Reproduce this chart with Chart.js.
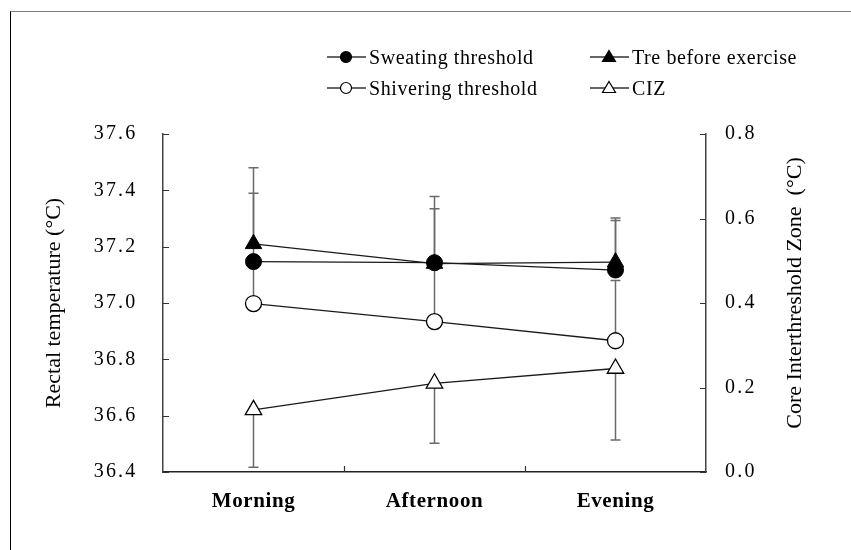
<!DOCTYPE html>
<html>
<head>
<meta charset="utf-8">
<script src="https://cdn.jsdelivr.net/npm/chart.js@4.4.0/dist/chart.umd.min.js"></script>
<style>
  html, body { margin: 0; padding: 0; background: #fff; }
  #wrap { position: relative; width: 851px; height: 550px; overflow: hidden; }
  #frame { position: absolute; left: 10px; top: 11px; width: 900px; height: 600px;
           border-left: 1.5px solid #000; border-top: 1px solid #808080; }
  #chart { position: absolute; left: 0; top: 0; }
  .leg { position: absolute; height: 24px; display: flex; align-items: center;
         font-family: 'Liberation Serif', serif; font-size: 20px; letter-spacing: 0.6px;
         color: #000; white-space: nowrap; }
  .leg svg { margin-right: 2px; }
</style>
</head>
<body>
<div id="wrap">
  <div id="frame"></div>
  <canvas id="chart" width="851" height="550"></canvas>
  <div id="legend"></div>
</div>
<script>
// ── Adatok ──
const categories = ['Morning', 'Afternoon', 'Evening'];

const sweating   = [37.147, 37.143, 37.117];
const sweatingSD = [0.243, 0.235, 0.176];
const tre        = [37.21, 37.14, 37.145];
const treSD      = [0.27, 0.195, 0.157];
const shivering   = [36.998, 36.934, 36.866];
const shiveringSD = [0.15, 0.2, 0.214];
const ciz   = [0.147, 0.21, 0.245];
const cizSD = [0.136, 0.142, 0.169];

const leftTicks  = [36.4, 36.6, 36.8, 37.0, 37.2, 37.4, 37.6];
const rightTicks = [0.0, 0.2, 0.4, 0.6, 0.8];

const FONT = "'Liberation Serif', 'Times New Roman', serif";
const LINE = '#1a1a1a';

// ── Legend (HTML) ──
const legendItems = [
  { text: 'Sweating threshold',  shape: 'circle',   fill: '#000', x: 327, y: 57 },
  { text: 'Tre before exercise', shape: 'triangle', fill: '#000', x: 590, y: 57 },
  { text: 'Shivering threshold', shape: 'circle',   fill: '#fff', x: 327, y: 88 },
  { text: 'CIZ',                 shape: 'triangle', fill: '#fff', x: 590, y: 88 }
];
document.getElementById('legend').innerHTML = legendItems.map(it => {
  const mark = it.shape === 'circle'
    ? `<circle cx="19" cy="12" r="5.5" fill="${it.fill}" stroke="#000" stroke-width="1.2"/>`
    : `<polygon points="19,5.5 25.5,16.5 12.5,16.5" fill="${it.fill}" stroke="#000" stroke-width="1.2"/>`;
  return `
    <div class="leg" style="left:${it.x}px; top:${it.y - 12}px">
      <svg width="40" height="24"><line x1="0" y1="12" x2="39" y2="12" stroke="#333" stroke-width="1.3"/>${mark}</svg>
      <span>${it.text}</span>
    </div>`;
}).join('');

// ── Hibasávok (csak egy irányba) ──
const errorBars = {
  id: 'errorBars',
  beforeDatasetsDraw(chart) {
    const ctx = chart.ctx;
    ctx.save();
    ctx.strokeStyle = '#6a6a6a';
    ctx.lineWidth = 1.5;
    chart.data.datasets.forEach((ds, i) => {
      const meta = chart.getDatasetMeta(i);
      const scale = chart.scales[ds.yAxisID];
      meta.data.forEach((pt, j) => {
        const v = ds.data[j];
        const end = v + ds.errors[j] * ds.errDir;
        const y0 = scale.getPixelForValue(v);
        const y1 = scale.getPixelForValue(end);
        ctx.beginPath();
        ctx.moveTo(pt.x, y0);
        ctx.lineTo(pt.x, y1);
        ctx.moveTo(pt.x - 5, y1);
        ctx.lineTo(pt.x + 5, y1);
        ctx.stroke();
      });
    });
    ctx.restore();
  }
};

// ── Szélesebb betűköz a tengelyfeliratokhoz ──
const labelSpacing = { x: '0.6px', y: '2.2px', y1: '2.2px' };
const spacedLabels = {
  id: 'spacedLabels',
  afterUpdate(chart) {
    Object.values(chart.scales).forEach(s => {
      if (s._spacedWrap) return;
      const orig = s.drawLabels;
      s.drawLabels = function (area) {
        const c = this.ctx;
        c.save();
        c.letterSpacing = labelSpacing[this.id] || '0px';
        orig.call(this, area);
        c.restore();
      };
      s._spacedWrap = true;
    });
  }
};

// ── Befelé mutató osztásjelek + jobb oldali tengelycím ──
const innerTicks = {
  id: 'innerTicks',
  afterDraw(chart) {
    const { ctx, chartArea: a, scales } = chart;
    const { x, y, y1 } = scales;
    ctx.save();
    ctx.strokeStyle = '#333';
    ctx.lineWidth = 1.2;
    ctx.beginPath();
    y.ticks.forEach(t => {
      const py = Math.round(y.getPixelForValue(t.value)) + 0.5;
      ctx.moveTo(a.left, py); ctx.lineTo(a.left + 6, py);
    });
    y1.ticks.forEach(t => {
      const py = Math.round(y1.getPixelForValue(t.value)) + 0.5;
      ctx.moveTo(a.right, py); ctx.lineTo(a.right - 6, py);
    });
    for (let k = 1; k < categories.length; k++) {
      const px = Math.round((x.getPixelForTick(k - 1) + x.getPixelForTick(k)) / 2) + 0.5;
      ctx.moveTo(px, a.bottom); ctx.lineTo(px, a.bottom - 6);
    }
    ctx.stroke();

    ctx.fillStyle = '#000';
    ctx.font = `22px ${FONT}`;
    ctx.textAlign = 'center';
    ctx.textBaseline = 'middle';
    ctx.translate(795, 293);
    ctx.rotate(-Math.PI / 2);
    ctx.fillText('Core Interthreshold Zone  (\u00B0C)', 0, 0);
    ctx.restore();
  }
};

const ctx = document.getElementById('chart').getContext('2d');

new Chart(ctx, {
  type: 'line',
  data: {
    labels: categories,
    datasets: [
      {
        label: 'Sweating threshold', data: sweating, errors: sweatingSD, errDir: 1, yAxisID: 'y',
        borderColor: LINE, borderWidth: 1.3, pointStyle: 'circle', pointRadius: 8,
        pointBackgroundColor: '#000', pointBorderColor: '#000', pointBorderWidth: 1
      },
      {
        label: 'Tre before exercise', data: tre, errors: treSD, errDir: 1, yAxisID: 'y',
        borderColor: LINE, borderWidth: 1.3, pointStyle: 'triangle', pointRadius: 9.5,
        pointBackgroundColor: '#000', pointBorderColor: '#000', pointBorderWidth: 1
      },
      {
        label: 'Shivering threshold', data: shivering, errors: shiveringSD, errDir: 1, yAxisID: 'y',
        borderColor: LINE, borderWidth: 1.3, pointStyle: 'circle', pointRadius: 8,
        pointBackgroundColor: '#fff', pointBorderColor: '#000', pointBorderWidth: 1.3
      },
      {
        label: 'CIZ', data: ciz, errors: cizSD, errDir: -1, yAxisID: 'y1',
        borderColor: LINE, borderWidth: 1.3, pointStyle: 'triangle', pointRadius: 9.5,
        pointBackgroundColor: '#fff', pointBorderColor: '#000', pointBorderWidth: 1.3
      }
    ]
  },
  options: {
    responsive: false,
    animation: false,
    layout: { padding: { top: 134, left: 0, right: 0, bottom: 0 } },
    plugins: { legend: { display: false }, tooltip: { enabled: false } },
    elements: { line: { tension: 0 } },
    scales: {
      x: {
        type: 'category',
        offset: true,
        grid: { display: false, drawTicks: false },
        border: { display: true, color: '#222', width: 1.5 },
        ticks: { color: '#000', padding: 17, font: { family: FONT, size: 21, weight: 'bold' } },
        afterFit: s => { s.height = 78; }
      },
      y: {
        position: 'left',
        min: 36.4, max: 37.6,
        afterBuildTicks: s => { s.ticks = leftTicks.map(v => ({ value: v })); },
        grid: { display: false, drawTicks: false },
        border: { display: true, color: '#444', width: 1.5 },
        ticks: { color: '#000', padding: 25.5, font: { family: FONT, size: 20 }, callback: v => v.toFixed(1) },
        title: { display: true, text: 'Rectal temperature (\u00B0C)', color: '#000',
                 font: { family: FONT, size: 22 }, padding: { top: 41, bottom: 0 } },
        afterFit: s => { s.width = 163; }
      },
      y1: {
        position: 'right',
        min: 0, max: 0.8,
        afterBuildTicks: s => { s.ticks = rightTicks.map(v => ({ value: v })); },
        grid: { display: false, drawTicks: false },
        border: { display: true, color: '#444', width: 1.5 },
        ticks: { color: '#000', padding: 19, font: { family: FONT, size: 20 }, callback: v => v.toFixed(1) },
        afterFit: s => { s.width = 145; }
      }
    }
  },
  plugins: [spacedLabels, errorBars, innerTicks]
});
</script>
</body>
</html>
